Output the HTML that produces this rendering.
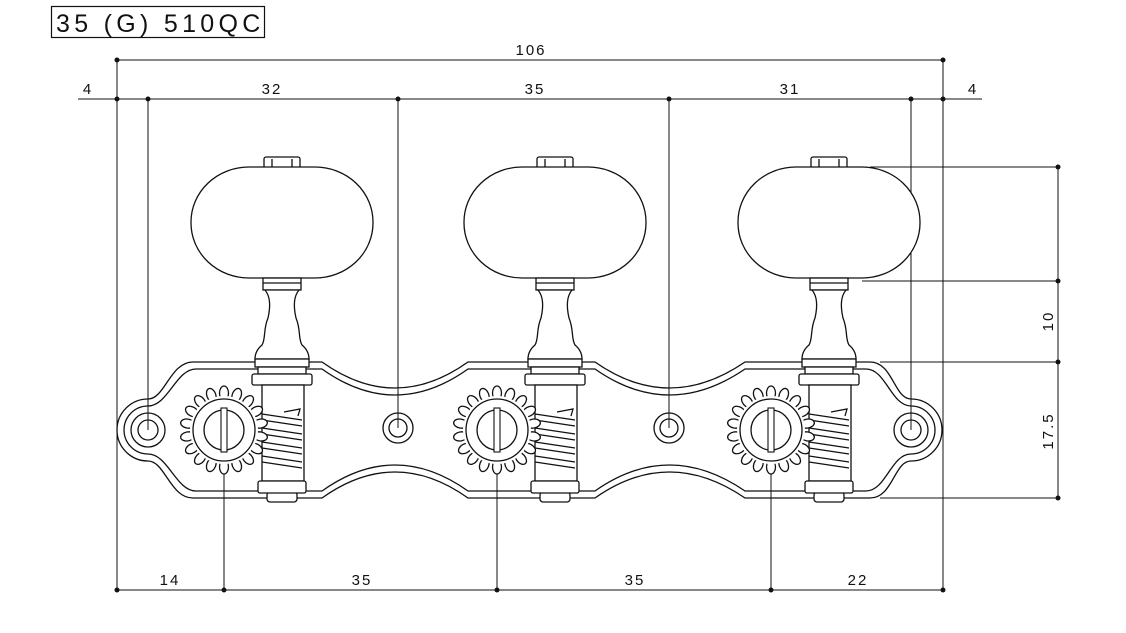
<!DOCTYPE html>
<html><head><meta charset="utf-8"><style>
html,body{margin:0;padding:0;background:#fff;}
svg{display:block;}
text{font-family:"Liberation Sans",sans-serif;fill:#111;}
</style></head><body>
<svg id="s" width="1126" height="633" viewBox="0 0 1126 633" xmlns="http://www.w3.org/2000/svg">
<rect x="51.5" y="6.5" width="213" height="31" fill="none" stroke="#111" stroke-width="1.2"/>
<text x="56" y="32" font-size="25" letter-spacing="4.3">35 (G) 510QC</text>
<g stroke="#111" stroke-width="1" fill="none">
<line x1="117" y1="60" x2="943" y2="60"/>
<line x1="78" y1="99" x2="982" y2="99"/>
<line x1="117" y1="590" x2="943" y2="590"/>
<line x1="117" y1="60" x2="117" y2="590"/>
<line x1="943" y1="60" x2="943" y2="590"/>
<line x1="148" y1="99" x2="148" y2="430"/>
<line x1="398" y1="99" x2="398" y2="428"/>
<line x1="669" y1="99" x2="669" y2="428"/>
<line x1="911" y1="99" x2="911" y2="430"/>
<line x1="224" y1="430" x2="224" y2="590"/>
<line x1="497" y1="428" x2="497" y2="590"/>
<line x1="771" y1="430" x2="771" y2="590"/>
<line x1="870" y1="167" x2="1058" y2="167"/>
<line x1="862" y1="281" x2="1058" y2="281"/>
<line x1="880" y1="362" x2="1058" y2="362"/>
<line x1="880" y1="498" x2="1058" y2="498"/>
<line x1="1058" y1="167" x2="1058" y2="498"/>
</g>
<g fill="#111">
<circle cx="117" cy="60" r="2.5"/><circle cx="943" cy="60" r="2.5"/>
<circle cx="117" cy="99" r="2.5"/><circle cx="148" cy="99" r="2.5"/><circle cx="398" cy="99" r="2.5"/><circle cx="669" cy="99" r="2.5"/><circle cx="911" cy="99" r="2.5"/><circle cx="943" cy="99" r="2.5"/>
<circle cx="117" cy="590" r="2.5"/><circle cx="224" cy="590" r="2.5"/><circle cx="497" cy="590" r="2.5"/><circle cx="771" cy="590" r="2.5"/><circle cx="943" cy="590" r="2.5"/>
<circle cx="1058" cy="167" r="2.5"/><circle cx="1058" cy="281" r="2.5"/><circle cx="1058" cy="362" r="2.5"/><circle cx="1058" cy="498" r="2.5"/>
</g>
<g font-size="15" letter-spacing="2" text-anchor="middle">
<text x="531" y="55">106</text>
<text x="88" y="94">4</text><text x="272" y="94">32</text><text x="535" y="94">35</text><text x="790" y="94">31</text><text x="973" y="94">4</text>
<text x="170" y="585">14</text><text x="362" y="585">35</text><text x="635" y="585">35</text><text x="858" y="585">22</text>
<text transform="translate(1053,321) rotate(-90)">10</text>
<text transform="translate(1053,431) rotate(-90)">17.5</text>
</g>
<g stroke="#111" stroke-width="1.3" fill="none">
<path d="M193,362 C170,362 165,399 148,399 A31,31 0 0 0 148,461 C165,461 170,498 193,498 L322,498 Q395,446 468,498 L595,498 Q669,446 745,498 L870,498 C893,498 894,461 911,461 A31,31 0 0 0 911,399 C894,399 893,362 870,362 L745,362 Q669,414 595,362 L468,362 Q395,414 322,362 Z"/>
<path d="M196,369 C176,369 168,406 148,406 A24,24 0 0 0 148,454 C168,454 176,491 196,491 L322,491 Q395,439 468,491 L595,491 Q669,439 745,491 L866,491 C886,491 891,454 911,454 A24,24 0 0 0 911,406 C891,406 886,369 866,369 L745,369 Q669,421 595,369 L468,369 Q395,421 322,369 Z"/>
<circle cx="148" cy="430" r="17"/><circle cx="148" cy="430" r="10"/>
<circle cx="911" cy="430" r="17"/><circle cx="911" cy="430" r="10"/>
<circle cx="398" cy="428" r="15"/><circle cx="398" cy="428" r="9"/>
<circle cx="669" cy="428" r="15"/><circle cx="669" cy="428" r="9"/>
</g>
<g id="tuners" stroke="#111" stroke-width="1.3" fill="#fff"></g>
</svg>
<script>
var g=document.getElementById('tuners'),h='';
[224,497,771].forEach(function(cx){
 var sx=cx+58,cy=430;
 h+='<rect x="'+(sx-18)+'" y="157" width="36" height="11" rx="2"/>';
 h+='<line x1="'+(sx-10)+'" y1="159" x2="'+(sx-10)+'" y2="167"/><line x1="'+(sx+10)+'" y1="159" x2="'+(sx+10)+'" y2="167"/>';
 h+='<rect x="'+(sx-91)+'" y="167" width="182" height="111" rx="58" ry="55"/>';
 h+='<rect x="'+(sx-19)+'" y="278" width="38" height="12"/><line x1="'+(sx-19)+'" y1="283" x2="'+(sx+19)+'" y2="283"/>';
 h+='<path d="M'+(sx-17)+',290 C'+(sx-12)+',296 '+(sx-11)+',305 '+(sx-14)+',318 C'+(sx-19)+',330 '+(sx-16)+',338 '+(sx-20)+',345 C'+(sx-26)+',350 '+(sx-27)+',355 '+(sx-27)+',359 L'+(sx+27)+',359 C'+(sx+27)+',355 '+(sx+26)+',350 '+(sx+20)+',345 C'+(sx+16)+',338 '+(sx+19)+',330 '+(sx+14)+',318 C'+(sx+11)+',305 '+(sx+12)+',296 '+(sx+17)+',290 Z"/>';
 h+='<rect x="'+(sx-27)+'" y="359" width="54" height="8"/><rect x="'+(sx-24)+'" y="367" width="48" height="7"/>';
 h+='<rect x="'+(sx-30)+'" y="374" width="60" height="11" rx="2"/>';
 h+='<rect x="'+(sx-20)+'" y="385" width="42" height="96"/>';
 h+='<rect x="'+(sx-15)+'" y="492" width="30" height="10" rx="3"/>';
 h+='<rect x="'+(sx-24)+'" y="481" width="48" height="12" rx="2"/>';
 for(var i=0;i<4;i++){var y=414+i*14;h+='<path fill="none" d="M'+(sx-20)+','+(y)+' L'+(sx+20)+','+(y+6)+' M'+(sx-20)+','+(y+6)+' L'+(sx+20)+','+(y+12)+'"/>';}
 h+='<path fill="none" d="M'+(sx+2)+','+(cy-18)+' L'+(sx+18)+','+(cy-21)+' L'+(sx+16)+','+(cy-14)+'"/>';
 // gear teeth as lobes
 var n=18;
 for(var k=0;k<n;k++){var a=k*2*Math.PI/n;
  h+='<ellipse cx="'+(cx+37*Math.sin(a)).toFixed(1)+'" cy="'+(cy-37*Math.cos(a)).toFixed(1)+'" rx="4.5" ry="7" transform="rotate('+(k*360/n)+' '+(cx+37*Math.sin(a)).toFixed(1)+' '+(cy-37*Math.cos(a)).toFixed(1)+')"/>';}
 h+='<circle cx="'+cx+'" cy="'+cy+'" r="34" stroke="none"/>';
 h+='<circle cx="'+cx+'" cy="'+cy+'" r="31"/><circle cx="'+cx+'" cy="'+cy+'" r="20"/>';
 h+='<rect x="'+(cx-3)+'" y="'+(cy-22)+'" width="6" height="44" stroke-width="1.1"/>';
});
g.innerHTML=h;
</script>
</body></html>
